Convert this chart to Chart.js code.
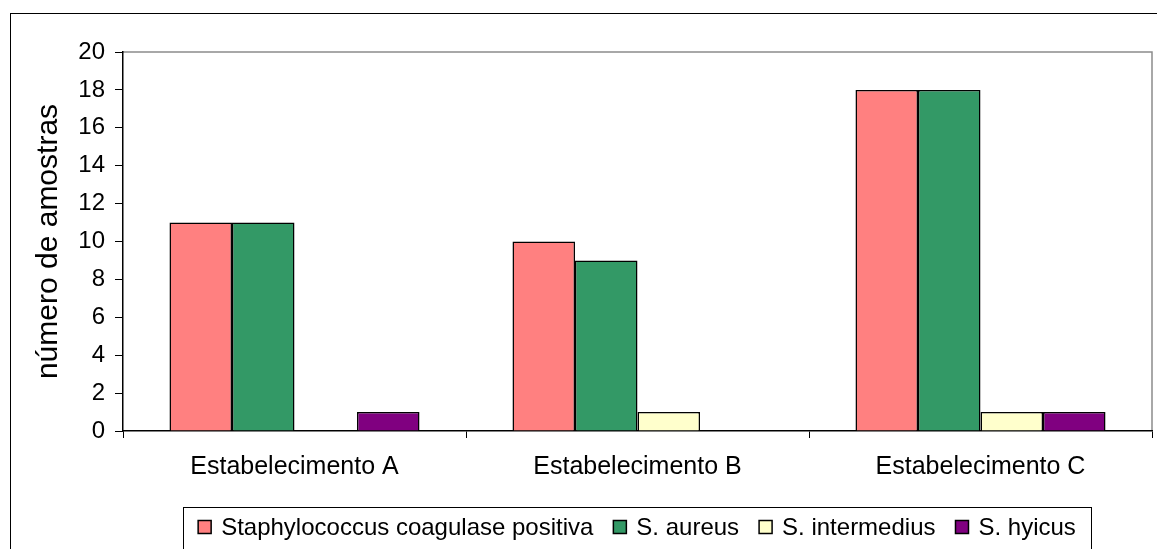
<!DOCTYPE html>
<html>
<head>
<meta charset="utf-8">
<script src="https://cdn.jsdelivr.net/npm/chart.js@4"></script>
<style>
  html, body { margin: 0; padding: 0; background: #fff; }
  #wrap { width: 1157px; height: 549px; }
</style>
</head>
<body>
<div id="wrap"><canvas id="chart" width="1157" height="549"></canvas></div>
<script>
// categories and series
const categories = ['Estabelecimento A', 'Estabelecimento B', 'Estabelecimento C'];
const seriesNames = ['Staphylococcus coagulase positiva', 'S. aureus', 'S. intermedius', 'S. hyicus'];
const coagPositiva = [11, 10, 18];
const aureus = [11, 9, 18];
const intermedius = [0, 1, 1];
const hyicus = [1, 0, 1];
const seriesColors = ['#FF8080', '#339966', '#FFFFCC', '#800080'];
const yMax = 20;
const yStep = 2;

const FONT = 'Liberation Sans, Arial, sans-serif';

// frame around the whole chart, gray plot box, and the boxed legend
const framePlugin = {
  id: 'frame',
  beforeDraw(chart) {
    const ctx = chart.ctx;
    const a = chart.chartArea;
    ctx.save();
    ctx.fillStyle = '#fff';
    ctx.fillRect(0, 0, chart.width, chart.height);
    ctx.strokeStyle = '#000';
    ctx.lineWidth = 1;
    ctx.strokeRect(10.5, 13.5, chart.width + 20, chart.height + 20);
    ctx.strokeStyle = '#8c8c8c';
    ctx.lineWidth = 1.5;
    ctx.beginPath();
    ctx.moveTo(a.left, a.top);
    ctx.lineTo(a.right, a.top);
    ctx.lineTo(a.right, a.bottom);
    ctx.stroke();
    ctx.restore();
  },
  afterDraw(chart) {
    const ctx = chart.ctx;
    ctx.save();
    ctx.font = '24px ' + FONT;
    ctx.textBaseline = 'middle';
    const box = 13, gap = 10, itemGap = 20;
    const widths = chart.data.datasets.map(d => box + gap + ctx.measureText(d.label).width);
    const total = widths.reduce((s, w) => s + w, 0) + itemGap * (widths.length - 1);
    const boxLeft = 183, boxRight = 1091, boxTop = 507.5;
    ctx.strokeStyle = '#000';
    ctx.lineWidth = 1;
    ctx.strokeRect(boxLeft + 0.5, boxTop, boxRight - boxLeft, 60);
    let x = (boxLeft + boxRight) / 2 - total / 2;
    const cy = 527;
    chart.data.datasets.forEach((d, i) => {
      ctx.fillStyle = d.backgroundColor;
      ctx.fillRect(x, cy - box / 2, box, box);
      ctx.strokeStyle = '#000';
      ctx.lineWidth = 1.5;
      ctx.strokeRect(x, cy - box / 2, box, box);
      ctx.fillStyle = '#000';
      ctx.fillText(d.label, x + box + gap, cy + 1);
      x += widths[i] + itemGap;
    });
    ctx.restore();
  }
};

const seriesData = [coagPositiva, aureus, intermedius, hyicus];

new Chart(document.getElementById('chart'), {
  type: 'bar',
  data: {
    labels: categories,
    datasets: seriesNames.map((name, i) => ({
      label: name,
      data: seriesData[i],
      backgroundColor: seriesColors[i],
      borderColor: '#000',
      borderWidth: 1.5,
      borderSkipped: 'bottom',
      categoryPercentage: 0.729,
      barPercentage: 1
    }))
  },
  options: {
    responsive: false,
    animation: false,
    devicePixelRatio: 1,
    layout: { padding: { left: 0, top: 52, right: 5, bottom: 0 } },
    plugins: {
      legend: { display: false },
      tooltip: { enabled: false }
    },
    scales: {
      x: {
        grid: { display: true, drawOnChartArea: false, drawTicks: true, tickLength: 7, color: '#000', offset: true },
        border: { color: '#000', width: 1.5 },
        ticks: { color: '#000', font: { family: FONT, size: 25 }, padding: 14, maxRotation: 0 },
        afterFit(scale) { scale.height = 118; }
      },
      y: {
        min: 0,
        max: yMax,
        ticks: { stepSize: yStep, color: '#000', font: { family: FONT, size: 24 }, padding: 10 },
        grid: { display: true, drawOnChartArea: false, drawTicks: true, tickLength: 8, color: '#000' },
        border: { color: '#000', width: 1.5 },
        title: {
          display: true,
          text: 'número de amostras',
          color: '#000',
          font: { family: FONT, size: 30 },
          padding: { top: 31, bottom: 0 }
        },
        afterFit(scale) { scale.width = 123; }
      }
    }
  },
  plugins: [framePlugin]
});
</script>
</body>
</html>
